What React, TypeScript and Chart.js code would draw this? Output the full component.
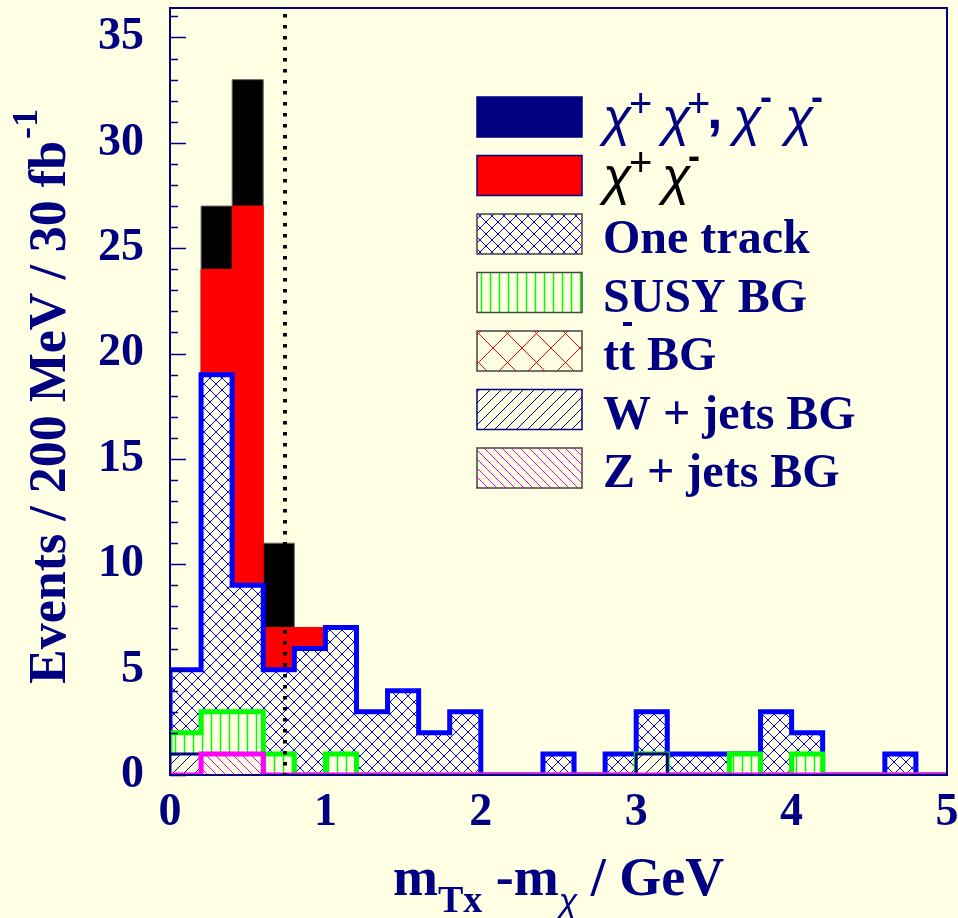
import React, { useEffect, useRef } from 'react';
import { Chart, registerables } from 'chart.js';

Chart.register(...registerables);

// 200 MeV bins: lower edges in GeV, plus the upper end of the range
const binEdges = [0, 0.2, 0.4, 0.6, 0.8, 1.0, 1.2, 1.4, 1.6, 1.8, 2.0, 2.2, 2.4, 2.6, 2.8, 3.0, 3.2, 3.4, 3.6, 3.8, 4.0, 4.2, 4.4, 4.6, 4.8];
const xMax = 5;

// Events per bin for each contribution (stacked bottom to top)
const zJets = [0, 1, 1, 0, 0, 0, 0, 0, 0, 0, 0, 0, 0, 0, 0, 0, 0, 0, 0, 0, 0, 0, 0, 0, 0];
const wJets = [1, 0, 0, 0, 0, 0, 0, 0, 0, 0, 0, 0, 0, 0, 0, 1, 0, 0, 0, 0, 0, 0, 0, 0, 0];
const ttbar = [0, 0, 0, 0, 0, 0, 0, 0, 0, 0, 0, 0, 0, 0, 0, 0, 0, 0, 0, 0, 0, 0, 0, 0, 0];
const susyBg = [1, 2, 2, 1, 0, 1, 0, 0, 0, 0, 0, 0, 0, 0, 0, 0, 0, 0, 1, 0, 1, 0, 0, 0, 0];
const oneTrack = [3, 16, 6, 4, 6, 6, 3, 4, 2, 3, 0, 0, 1, 0, 1, 2, 1, 1, 0, 3, 1, 0, 0, 1, 0];
const chiPlusMinus = [0, 5, 18, 2, 1, 0, 0, 0, 0, 0, 0, 0, 0, 0, 0, 0, 0, 0, 0, 0, 0, 0, 0, 0, 0];
const chiSameSign = [0, 3, 6, 4, 0, 0, 0, 0, 0, 0, 0, 0, 0, 0, 0, 0, 0, 0, 0, 0, 0, 0, 0, 0, 0];

const xTickValues = [0, 1, 2, 3, 4, 5];
const yTickValues = [0, 5, 10, 15, 20, 25, 30, 35];
const yMax = 36.4;
const cutValue = 0.74;

const NAVY = '#000080';
const CREAM = '#ffffe3';
const SERIF = "'Liberation Serif', 'Times New Roman', serif";
const SANS = "'Liberation Sans', Arial, sans-serif";

type Pt = { x: number; y: number };

function cumulative(layers: number[][]): number[][] {
  const out: number[][] = [];
  let run = layers[0].map(() => 0);
  for (const layer of layers) {
    run = run.map((v, i) => v + layer[i]);
    out.push(run);
  }
  return out;
}

// Outline of a histogram as step points, closed down to zero at both ends
function stepPoints(vals: number[]): Pt[] {
  const pts: Pt[] = [{ x: binEdges[0], y: 0 }];
  vals.forEach((v, i) => pts.push({ x: binEdges[i], y: v }));
  pts.push({ x: xMax, y: vals[vals.length - 1] });
  pts.push({ x: xMax, y: 0 });
  return pts;
}

function makePattern(
  ctx: CanvasRenderingContext2D,
  size: number,
  color: string,
  width: number,
  kind: 'slash' | 'backslash' | 'cross' | 'vertical'
): CanvasPattern {
  const off = document.createElement('canvas');
  off.width = size;
  off.height = size;
  const c = off.getContext('2d')!;
  c.fillStyle = CREAM;
  c.fillRect(0, 0, size, size);
  c.strokeStyle = color;
  c.lineWidth = width;
  c.beginPath();
  const s = size;
  if (kind === 'slash' || kind === 'cross') {
    c.moveTo(-1, 1); c.lineTo(1, -1);
    c.moveTo(0, s); c.lineTo(s, 0);
    c.moveTo(s - 1, s + 1); c.lineTo(s + 1, s - 1);
  }
  if (kind === 'backslash' || kind === 'cross') {
    c.moveTo(-1, s - 1); c.lineTo(1, s + 1);
    c.moveTo(0, 0); c.lineTo(s, s);
    c.moveTo(s - 1, -1); c.lineTo(s + 1, 1);
  }
  if (kind === 'vertical') {
    c.moveTo(s / 2, 0); c.lineTo(s / 2, s);
  }
  c.stroke();
  return ctx.createPattern(off, 'repeat')!;
}

export default function App() {
  const ref = useRef<HTMLCanvasElement>(null);

  useEffect(() => {
    document.body.style.margin = '0';
    document.body.style.background = CREAM;
    const canvas = ref.current!;
    const ctx = canvas.getContext('2d')!;

    const patZ = makePattern(ctx, 9, '#ff00ff', 1, 'backslash');
    const patW = makePattern(ctx, 11, NAVY, 1, 'slash');
    const patTT = makePattern(ctx, 29, '#ff0000', 1, 'cross');
    const patSusy = makePattern(ctx, 9, '#00ff00', 1.5, 'vertical');
    const patOne = makePattern(ctx, 12, '#0000ff', 1, 'cross');

    const layers = [zJets, wJets, ttbar, susyBg, oneTrack, chiPlusMinus, chiSameSign];
    const cum = cumulative(layers);
    const styles = [
      { fill: patZ, border: '#ff00ff', width: 5 },
      { fill: patW, border: NAVY, width: 3 },
      { fill: patTT, border: '#ff0000', width: 1 },
      { fill: patSusy, border: '#00ff00', width: 5 },
      { fill: patOne, border: '#0000ff', width: 5 },
      { fill: '#ff0000', border: '#ff0000', width: 1 },
      { fill: '#000000', border: '#666666', width: 1 },
    ];
    const names = ['Z + jets BG', 'W + jets BG', 'tt BG', 'SUSY BG', 'One track', 'chi+ chi-', 'chi chi same sign'];

    const datasets = cum.map((vals, i) => ({
      label: names[i],
      data: stepPoints(vals),
      stepped: 'before' as const,
      fill: 'origin',
      backgroundColor: styles[i].fill,
      borderColor: styles[i].border,
      borderWidth: styles[i].width,
      borderJoinStyle: 'miter' as const,
      pointRadius: 0,
      tension: 0,
      clip: 0,
    }));

    const legendEntries = [
      { fill: NAVY as string | CanvasPattern, border: NAVY, kind: 'ss' },
      { fill: '#ff0000', border: NAVY, kind: 'pm' },
      { fill: patOne, border: '#444444', kind: 'One track' },
      { fill: patSusy, border: '#444444', kind: 'SUSY BG' },
      { fill: patTT, border: '#444444', kind: 'tt BG' },
      { fill: patW, border: NAVY, kind: 'W + jets BG' },
      { fill: patZ, border: '#444444', kind: 'Z + jets BG' },
    ];

    const decor = {
      id: 'decor',
      beforeDraw(chart: Chart) {
        const c = chart.ctx;
        c.save();
        c.fillStyle = CREAM;
        c.fillRect(0, 0, chart.width, chart.height);
        c.restore();
      },
      afterDatasetsDraw(chart: Chart) {
        const c = chart.ctx;
        const { left, top, bottom } = chart.chartArea;
        const xs = chart.scales.x;
        const ys = chart.scales.y;
        c.save();
        // dotted cut line
        const cx = xs.getPixelForValue(cutValue);
        c.strokeStyle = '#000000';
        c.lineWidth = 4;
        c.setLineDash([3.5, 7.5]);
        c.beginPath();
        c.moveTo(cx, top + 6);
        c.lineTo(cx, bottom);
        c.stroke();
        c.setLineDash([]);
        // y-axis tick marks, pointing into the plot
        c.strokeStyle = NAVY;
        c.lineWidth = 1.5;
        for (let v = 0; v <= Math.floor(yMax); v++) {
          const py = Math.round(ys.getPixelForValue(v)) + 0.5;
          const len = v % 5 === 0 ? 16 : 8;
          c.beginPath();
          c.moveTo(left, py);
          c.lineTo(left + len, py);
          c.stroke();
        }
        c.restore();
      },
      afterDraw(chart: Chart) {
        const c = chart.ctx;
        const { left, top, right, bottom } = chart.chartArea;
        c.save();
        // frame
        c.strokeStyle = NAVY;
        c.lineWidth = 2;
        c.strokeRect(left, top, right - left, bottom - top);

        // legend
        const lx = 477, ly = 97, lw = 105, lh = 40, step = 58.5, tx = 603;
        legendEntries.forEach((e, i) => {
          const y0 = ly + i * step;
          c.fillStyle = e.fill;
          c.fillRect(lx, y0, lw, lh);
          c.strokeStyle = e.border;
          c.lineWidth = 1.5;
          c.strokeRect(lx, y0, lw, lh);
          const base = y0 + lh - 1;
          c.textBaseline = 'alphabetic';
          c.textAlign = 'left';
          if (e.kind === 'ss' || e.kind === 'pm') {
            c.fillStyle = e.kind === 'ss' ? NAVY : '#000000';
            const chiFont = `italic 52px ${SANS}`;
            const plusFont = `40px ${SANS}`;
            const minusFont = `bold 36px ${SANS}`;
            const parts: [string, number, string, number][] =
              e.kind === 'ss'
                ? [
                    ['χ', 0, chiFont, -1], ['+', 26, plusFont, -19],
                    ['χ', 59, chiFont, -1], ['+', 84, plusFont, -19],
                    [',', 104, `bold 56px ${SANS}`, -8],
                    ['χ', 130, chiFont, -1], ['-', 157, minusFont, -27],
                    ['χ', 182, chiFont, -1], ['-', 208, minusFont, -27],
                  ]
                : [
                    ['χ', 0, chiFont, -1], ['+', 26, plusFont, -19],
                    ['χ', 59, chiFont, -1], ['-', 85, minusFont, -27],
                  ];
            parts.forEach(([t, dx, f, dy]) => {
              c.font = f;
              c.fillText(t, tx + dx, base + dy);
            });
          } else {
            c.fillStyle = NAVY;
            c.font = `bold 48px ${SERIF}`;
            c.fillText(e.kind, tx, base);
            if (e.kind === 'tt BG') {
              const tw = c.measureText('t').width;
              c.fillRect(tx + tw + 4, y0 - 9, 9, 4);
            }
          }
        });

        // y-axis title, rotated, with superscript
        c.save();
        c.translate(65, 684);
        c.rotate(-Math.PI / 2);
        c.fillStyle = NAVY;
        c.font = `bold 52px ${SERIF}`;
        const main = 'Events / 200 MeV / 30 fb';
        c.fillText(main, 0, 0);
        const mw = c.measureText(main).width;
        c.font = `bold 36px ${SERIF}`;
        c.fillText('-1', mw + 2, -28);
        c.restore();

        // x-axis title with subscripts
        c.fillStyle = NAVY;
        let x = 393;
        const xBase = 895;
        const piece = (t: string, f: string, dy: number) => {
          c.font = f;
          c.fillText(t, x, xBase + dy);
          x += c.measureText(t).width;
        };
        piece('m', `bold 54px ${SERIF}`, 0);
        piece('Tx', `bold 38px ${SERIF}`, 17);
        piece(' -m', `bold 54px ${SERIF}`, 0);
        piece('χ', `italic 34px ${SANS}`, 17);
        piece(' / GeV', `bold 54px ${SERIF}`, 0);
        c.restore();
      },
    };

    const chart = new Chart(ctx, {
      type: 'line',
      data: { datasets: datasets as any },
      options: {
        animation: false,
        responsive: false,
        events: [],
        layout: { padding: { top: 8, right: 11, left: 0, bottom: 0 } },
        plugins: {
          legend: { display: false },
          tooltip: { enabled: false },
        },
        scales: {
          x: {
            type: 'linear',
            min: 0,
            max: xMax,
            grid: { display: false, drawTicks: false },
            border: { display: false },
            ticks: {
              color: NAVY,
              font: { family: SERIF, size: 46, weight: 'bold' },
              padding: 11,
              maxRotation: 0,
              autoSkip: false,
            },
            afterBuildTicks: (s: any) => {
              s.ticks = xTickValues.map((v) => ({ value: v }));
            },
            afterFit: (s: any) => {
              s.height = 143;
              s.paddingLeft = 0;
              s.paddingRight = 0;
            },
          },
          y: {
            type: 'linear',
            min: 0,
            max: yMax,
            grid: { display: false, drawTicks: false },
            border: { display: false },
            ticks: {
              color: NAVY,
              font: { family: SERIF, size: 46, weight: 'bold' },
              padding: 26,
            },
            afterBuildTicks: (s: any) => {
              s.ticks = yTickValues.map((v) => ({ value: v }));
            },
            afterFit: (s: any) => {
              s.width = 170;
              s.paddingTop = 0;
              s.paddingBottom = 0;
            },
          },
        },
      },
      plugins: [decor],
    });

    return () => chart.destroy();
  }, []);

  return <canvas ref={ref} width={958} height={918} style={{ display: 'block' }} />;
}
